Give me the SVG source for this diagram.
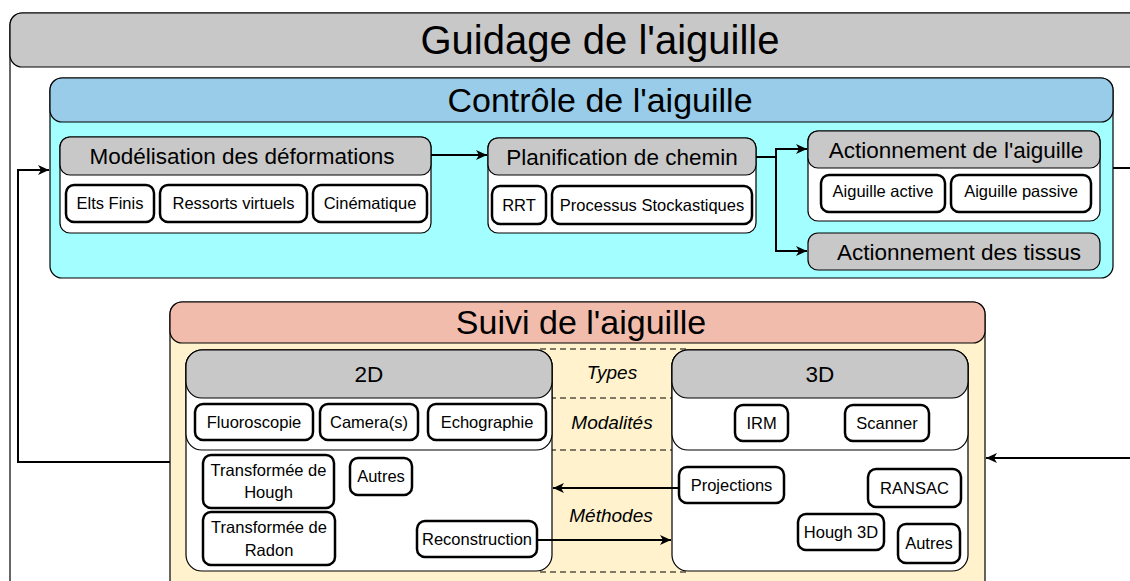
<svg xmlns="http://www.w3.org/2000/svg" width="1130" height="581" viewBox="0 0 1130 581">
<defs>
<marker id="arr" markerWidth="12" markerHeight="10" refX="11" refY="5" orient="auto" markerUnits="userSpaceOnUse">
<path d="M0,0 L11,5 L0,10 L3,5 z" fill="#000"/>
</marker>
<style>
text{font-family:"Liberation Sans",Arial,sans-serif;fill:#000;text-anchor:middle}
.box{stroke:#000;stroke-width:1.2}
.gray{fill:#c8c8c8}
.white{fill:#fff}
.sub{fill:#fff;stroke:#000;stroke-width:2.5}
.t16{font-size:16.5px}
.t22{font-size:22.5px}
.it{font-size:19px;font-style:italic}
.dash{stroke:#000;stroke-width:1;stroke-dasharray:6 4;fill:none}
.conn{stroke:#000;stroke-width:2;fill:none}
</style>
</defs>

<g id="guidage">
<rect class="box white" x="10" y="13" width="1150" height="620" rx="12"/>
<rect class="box gray" x="10" y="13" width="1150" height="54" rx="12"/>
<text x="600" y="54" style="font-size:40px">Guidage de l'aiguille</text>
</g>

<g id="controle">
<rect class="box" fill="#a3ffff" x="50" y="78" width="1063" height="200" rx="12"/>
<rect class="box" fill="#99cce8" x="50" y="78" width="1063" height="44" rx="12"/>
<text x="600" y="112" style="font-size:34px">Contrôle de l'aiguille</text>
</g>

<g id="modelisation">
<rect class="box white" x="60" y="137" width="371" height="96" rx="10"/>
<rect class="box gray" x="60" y="137" width="371" height="38" rx="10"/>
<text class="t22" x="242" y="164">Modélisation des déformations</text>
<g id="elts-finis"><rect class="sub" x="66" y="185" width="88" height="37" rx="8"/><text class="t16" x="110" y="209">Elts Finis</text></g>
<g id="ressorts"><rect class="sub" x="160" y="185" width="147" height="37" rx="8"/><text class="t16" x="233.5" y="209">Ressorts virtuels</text></g>
<g id="cinematique"><rect class="sub" x="313" y="185" width="114" height="37" rx="8"/><text class="t16" x="370" y="209">Cinématique</text></g>
</g>

<g id="planification">
<rect class="box white" x="488" y="138" width="268" height="95" rx="10"/>
<rect class="box gray" x="488" y="138" width="268" height="37" rx="10"/>
<text class="t22" x="622" y="164.5">Planification de chemin</text>
<g id="rrt"><rect class="sub" x="492" y="186" width="54" height="38" rx="8"/><text class="t16" x="519" y="211">RRT</text></g>
<g id="processus"><rect class="sub" x="552" y="186" width="200" height="38" rx="8"/><text class="t16" x="652" y="211">Processus Stockastiques</text></g>
</g>

<g id="actionnement-aiguille">
<rect class="box white" x="808" y="131" width="292" height="90" rx="10"/>
<rect class="box gray" x="808" y="131" width="292" height="37" rx="10"/>
<text class="t22" x="956" y="157.5">Actionnement de l'aiguille</text>
<g id="aiguille-active"><rect class="sub" x="821" y="175" width="124" height="37" rx="8"/><text class="t16" x="883" y="197">Aiguille active</text></g>
<g id="aiguille-passive"><rect class="sub" x="951" y="175" width="140" height="37" rx="8"/><text class="t16" x="1021" y="197">Aiguille passive</text></g>
</g>

<g id="actionnement-tissus">
<rect class="box gray" x="808" y="233" width="292" height="37" rx="10"/>
<text class="t22" x="959" y="259.5">Actionnement des tissus</text>
</g>

<g id="suivi">
<rect class="box" fill="#fff2cc" x="170" y="302" width="815" height="300" rx="12"/>
<rect class="box" fill="#f2bcac" x="170" y="302" width="815" height="41" rx="12"/>
<text x="581" y="334" style="font-size:34px">Suivi de l'aiguille</text>
</g>

<g id="dashes">
<line class="dash" x1="540" y1="349" x2="690" y2="349"/>
<line class="dash" x1="540" y1="398" x2="690" y2="398"/>
<line class="dash" x1="540" y1="450" x2="690" y2="450"/>
<line class="dash" x1="540" y1="572" x2="690" y2="572"/>
</g>

<g id="node-2d">
<rect class="box white" x="186" y="350" width="366" height="221" rx="16"/>
<rect class="box white" x="186" y="350" width="366" height="100" rx="16"/>
<rect class="box gray" x="186" y="350" width="366" height="48" rx="16"/>
<text class="t22" x="369" y="382">2D</text>
<g id="fluoroscopie"><rect class="sub" x="195" y="404" width="118" height="36" rx="8"/><text class="t16" x="254" y="428">Fluoroscopie</text></g>
<g id="camera"><rect class="sub" x="320" y="404" width="98" height="36" rx="8"/><text class="t16" x="369" y="428">Camera(s)</text></g>
<g id="echographie"><rect class="sub" x="428" y="404" width="118" height="36" rx="8"/><text class="t16" x="487" y="428">Echographie</text></g>
<g id="hough"><rect class="sub" x="203" y="455" width="131" height="53" rx="8"/><text class="t16" x="268.5" y="476">Transformée de</text><text class="t16" x="268.5" y="498">Hough</text></g>
<g id="autres-2d"><rect class="sub" x="350" y="458" width="62" height="37" rx="8"/><text class="t16" x="381" y="482">Autres</text></g>
<g id="radon"><rect class="sub" x="203" y="512" width="132" height="53" rx="8"/><text class="t16" x="269" y="533">Transformée de</text><text class="t16" x="269" y="556">Radon</text></g>
<g id="reconstruction"><rect class="sub" x="417" y="521" width="120" height="36" rx="8"/><text class="t16" x="477" y="545">Reconstruction</text></g>
</g>

<g id="node-3d">
<rect class="box white" x="672" y="350" width="296" height="221" rx="16"/>
<rect class="box white" x="672" y="350" width="296" height="100" rx="16"/>
<rect class="box gray" x="672" y="350" width="296" height="48" rx="16"/>
<text class="t22" x="820" y="382">3D</text>
<g id="irm"><rect class="sub" x="735" y="405" width="53" height="36" rx="8"/><text class="t16" x="761.5" y="429">IRM</text></g>
<g id="scanner"><rect class="sub" x="845" y="405" width="84" height="36" rx="8"/><text class="t16" x="887" y="429">Scanner</text></g>
<g id="projections"><rect class="sub" x="679" y="467" width="105" height="36" rx="8"/><text class="t16" x="731.5" y="491">Projections</text></g>
<g id="ransac"><rect class="sub" x="868" y="469" width="93" height="38" rx="8"/><text class="t16" x="914.5" y="494">RANSAC</text></g>
<g id="hough3d"><rect class="sub" x="798" y="514" width="86" height="36" rx="8"/><text class="t16" x="841" y="538">Hough 3D</text></g>
<g id="autres-3d"><rect class="sub" x="898" y="524" width="62" height="39" rx="8"/><text class="t16" x="929" y="549">Autres</text></g>
</g>

<g id="labels">
<text class="it" x="612" y="379">Types</text>
<text class="it" x="612" y="429">Modalités</text>
<text class="it" x="611" y="522">Méthodes</text>
</g>

<g id="connectors">
<path class="conn" d="M431 155 H487" marker-end="url(#arr)"/>
<path class="conn" d="M756 157 H776 V149 H807" marker-end="url(#arr)"/>
<path class="conn" d="M776 157 V251 H807" marker-end="url(#arr)"/>
<path class="conn" d="M170 462 H18 V170 H49" marker-end="url(#arr)"/>
<path class="conn" d="M1113 168 H1132"/>
<path class="conn" d="M1132 458 H986" marker-end="url(#arr)"/>
<path class="conn" d="M679 488 H553" marker-end="url(#arr)"/>
<path class="conn" d="M537 540 H671" marker-end="url(#arr)"/>
</g>
</svg>
